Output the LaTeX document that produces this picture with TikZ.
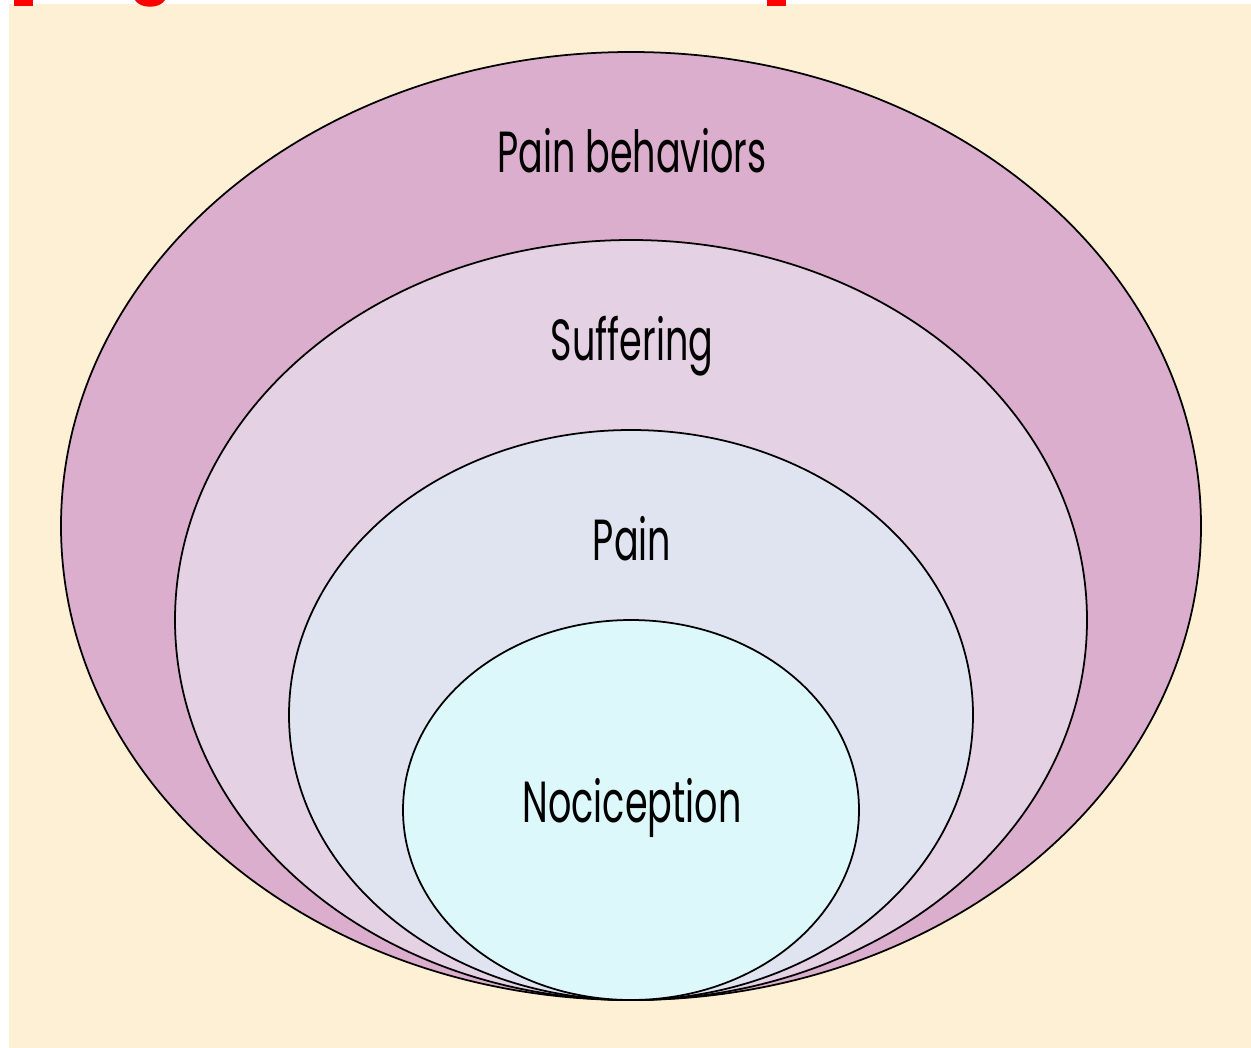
\documentclass[tikz,border=0pt]{standalone}
\usepackage{fontspec}
\setmainfont{Poppins}
\definecolor{fondo}{RGB}{253,240,212}
\definecolor{capaA}{RGB}{220,174,205}
\definecolor{capaB}{RGB}{229,209,228}
\definecolor{capaC}{RGB}{223,228,240}
\definecolor{capaD}{RGB}{221,248,250}
\begin{document}
\begin{tikzpicture}[x=0.02cm, y=-0.02cm,
    capa/.style={draw=black, line width=1pt},
    etiqueta/.style={anchor=base, font=\fontsize{33}{40}\selectfont}]
  \useasboundingbox (0,0) rectangle (1251,1048);
  % Fondo
  \fill[white] (0,0) rectangle (1251,1048);
  \fill[fondo] (9,4) rectangle (1251,1048);
  % Restos del titulo
  \fill[red] (14,0) rectangle (33,6);
  \fill[red] (135,0) .. controls (140,9) and (160,9) .. (165,0) -- cycle;
  \fill[red] (767,0) rectangle (786,6);

  % Capas
  \draw[capa,fill=capaA] (631,526) ellipse [x radius=570, y radius=474];
  \draw[capa,fill=capaB] (631,620) ellipse [x radius=456, y radius=380];
  \draw[capa,fill=capaC] (631,715) ellipse [x radius=342, y radius=285];
  \draw[capa,fill=capaD] (631,810) ellipse [x radius=228, y radius=190];

  % Textos
  \node[etiqueta] (conducta) at (632,172) {\scalebox{0.63}[1]{Pain behaviors}};
  \node[etiqueta] (sufrimiento) at (632,360) {\scalebox{0.63}[1]{Suffering}};
  \node[etiqueta] (dolor) at (632,560) {\scalebox{0.63}[1]{Pain}};
  \node[etiqueta] (nocicepcion) at (632,822) {\scalebox{0.63}[1]{Nociception}};
\end{tikzpicture}
\end{document}
